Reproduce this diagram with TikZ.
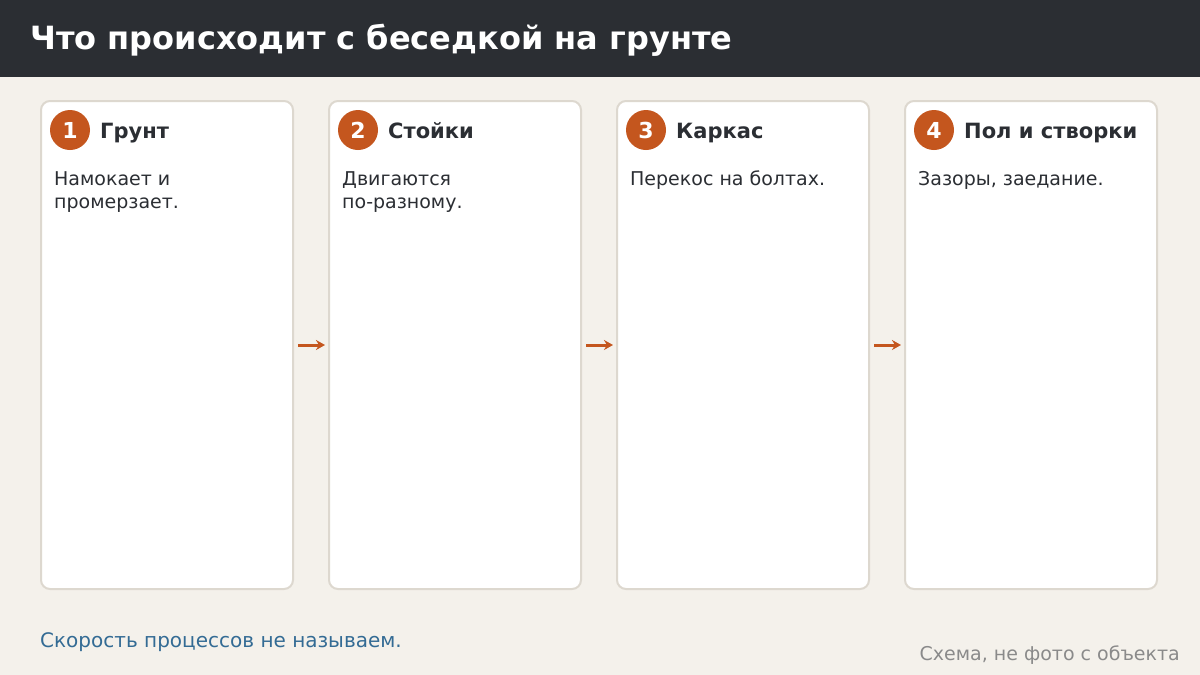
\documentclass[tikz,border=0pt]{standalone}
\usepackage{fontspec}
\setmainfont{DejaVu Sans}
\usetikzlibrary{arrows.meta,positioning}

\definecolor{barbg}{HTML}{2B2E33}
\definecolor{pagebg}{HTML}{F4F1EB}
\definecolor{cardline}{HTML}{DDD8CF}
\definecolor{rust}{HTML}{C4561E}
\definecolor{ink}{HTML}{2B2E33}
\definecolor{noteblue}{HTML}{336B94}
\definecolor{notegray}{HTML}{8A8A8A}

\newcommand{\twolines}[2]{\begin{tabular}[t]{@{}l@{}}#1\\#2\end{tabular}}

\tikzset{
	card/.style={draw=cardline, fill=white, line width=2pt, rounded corners=9pt,
		minimum width=252pt, minimum height=488pt, inner sep=0pt},
	badge/.style={circle, fill=rust, minimum size=40pt, inner sep=0pt,
		text=white, font=\fontsize{22}{26}\selectfont\bfseries},
	head/.style={anchor=base west, inner sep=0pt, text=ink,
		font=\fontsize{21}{25}\selectfont\bfseries},
	body/.style={anchor=base west, inner sep=0pt, text=ink,
		font=\fontsize{19}{23}\selectfont},
	flow/.style={draw=rust, line width=3pt, -{Stealth[length=9pt,width=10pt]}}
}

\begin{document}
\begin{tikzpicture}[x=1pt,y=-1pt]
	\fill[pagebg] (0,0) rectangle (1200,675);
	\useasboundingbox (0,0) rectangle (1200,675);
	\fill[barbg] (0,0) rectangle (1200,77);
	\node[anchor=base west, inner sep=0pt, text=white,
		font=\fontsize{32}{38}\selectfont\bfseries] (title) at (30,49)
		{Что происходит с беседкой на грунте};
	%
	\node[card] (c1) at (167,345) {};
	\node[badge] (n1) at (70,130) {1};
	\node[head] (h1) at (100,138) {Грунт};
	\node[body] (t1) at (54,185) {\twolines{Намокает и}{промерзает.}};
	%
	\node[card] (c2) at (455,345) {};
	\node[badge] (n2) at (358,130) {2};
	\node[head] (h2) at (388,138) {Стойки};
	\node[body] (t2) at (342,185) {\twolines{Двигаются}{по-разному.}};
	%
	\node[card] (c3) at (743,345) {};
	\node[badge] (n3) at (646,130) {3};
	\node[head] (h3) at (676,138) {Каркас};
	\node[body] (t3) at (630,185) {Перекос на болтах.};
	%
	\node[card] (c4) at (1031,345) {};
	\node[badge] (n4) at (934,130) {4};
	\node[head] (h4) at (964,138) {Пол и створки};
	\node[body] (t4) at (918,185) {Зазоры, заедание.};
	%
	\draw[flow] ([xshift=4pt]c1.east) -- ([xshift=-3pt]c2.west);
	\draw[flow] ([xshift=4pt]c2.east) -- ([xshift=-3pt]c3.west);
	\draw[flow] ([xshift=4pt]c3.east) -- ([xshift=-3pt]c4.west);
	%
	\node[anchor=base west, inner sep=0pt, text=noteblue,
		font=\fontsize{20}{24}\selectfont] (note) at (40,647) {Скорость процессов не называем.};
	\node[anchor=base east, inner sep=0pt, text=notegray,
		font=\fontsize{19}{23}\selectfont] (src) at (1180,660) {Схема, не фото с объекта};
\end{tikzpicture}
\end{document}
